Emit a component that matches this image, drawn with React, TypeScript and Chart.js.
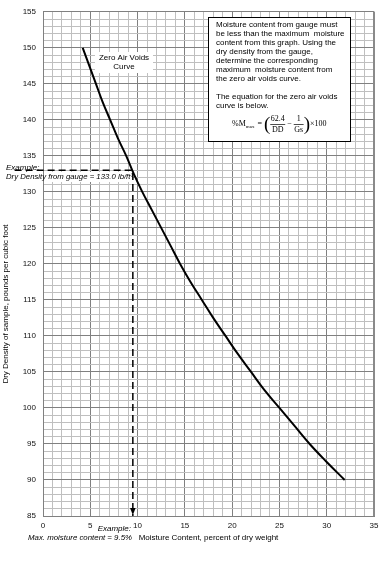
import React, { useEffect, useRef } from 'react';
import { Chart, registerables } from 'chart.js';

Chart.register(...registerables);

// Zero air voids curve
const densityPcf = [150, 147.5, 145, 142.5, 140, 137.5, 135, 132.5, 130, 127.5, 125, 122.5, 120, 117.5, 115, 112.5, 110, 107.5, 105, 102.5, 100, 97.5, 95, 92.5, 90];
const moisturePct = [4.2, 4.9, 5.6, 6.3, 7.1, 7.9, 8.8, 9.6, 10.5, 11.5, 12.5, 13.5, 14.5, 15.6, 16.8, 18.0, 19.3, 20.6, 22.0, 23.4, 25.0, 26.6, 28.2, 30.0, 31.9];

// Example reading (dashed guide)
const exampleGuideX = [-3, 9.5, 9.5];
const exampleGuideY = [133.0, 133.0, 85];

const xMin = 0, xMax = 35, yMin = 85, yMax = 155;
const majorStep = 5;

const noteLines = [
  'Moisture content from gauge must',
  'be less than the maximum  moisture',
  'content from this graph. Using the',
  'dry density from the gauge,',
  'determine the corresponding',
  'maximum  moisture content from',
  'the zero air voids curve.',
  '',
  'The equation for the zero air voids',
  'curve is below.',
];

const SANS = '"Liberation Sans", Arial, sans-serif';
const SERIF = '"Liberation Serif", "Times New Roman", serif';

const annotations = {
  id: 'annotations',
  afterDraw(chart: any) {
    const { ctx, chartArea, scales } = chart;
    const xs = scales.x, ys = scales.y;
    ctx.save();

    // right frame edge
    ctx.strokeStyle = '#8a8a8a';
    ctx.lineWidth = 2;
    ctx.beginPath();
    ctx.moveTo(chartArea.right, chartArea.top);
    ctx.lineTo(chartArea.right, chartArea.bottom);
    ctx.stroke();

    // arrow head
    const ax = xs.getPixelForValue(exampleGuideX[2]);
    const ay = ys.getPixelForValue(exampleGuideY[2]);
    ctx.fillStyle = '#000';
    ctx.beginPath();
    ctx.moveTo(ax, ay - 1);
    ctx.lineTo(ax - 2.8, ay - 8);
    ctx.lineTo(ax + 2.8, ay - 8);
    ctx.closePath();
    ctx.fill();

    // note box
    ctx.fillStyle = '#fff';
    ctx.fillRect(208, 17, 143, 125);
    ctx.strokeStyle = '#000';
    ctx.lineWidth = 1;
    ctx.strokeRect(208.5, 17.5, 142, 124);
    ctx.fillStyle = '#000';
    ctx.font = `8px ${SANS}`;
    ctx.textBaseline = 'middle';
    ctx.textAlign = 'left';
    noteLines.forEach((t, i) => {
      if (t) ctx.fillText(t, 216, 25 + i * 9);
    });

    // equation
    const ey = 124;
    let x = 232;
    ctx.font = `8px ${SERIF}`;
    ctx.fillText('%M', x, ey);
    x += ctx.measureText('%M').width;
    ctx.font = `5px ${SERIF}`;
    ctx.fillText('max', x, ey + 2.5);
    x += ctx.measureText('max').width + 3;
    ctx.font = `8px ${SERIF}`;
    ctx.fillText('=', x, ey);
    x += ctx.measureText('=').width + 2;
    ctx.font = `19px ${SERIF}`;
    ctx.fillText('(', x, ey + 1);
    x += ctx.measureText('(').width;
    const frac = (num: string, den: string) => {
      ctx.font = `8px ${SERIF}`;
      const w = Math.max(ctx.measureText(num).width, ctx.measureText(den).width) + 1;
      ctx.textAlign = 'center';
      ctx.fillText(num, x + w / 2, ey - 5);
      ctx.fillText(den, x + w / 2, ey + 5.5);
      ctx.textAlign = 'left';
      ctx.lineWidth = 0.7;
      ctx.beginPath();
      ctx.moveTo(x, ey + 0.5);
      ctx.lineTo(x + w, ey + 0.5);
      ctx.stroke();
      x += w;
    };
    frac('62.4', 'DD');
    x += 2;
    ctx.font = `8px ${SERIF}`;
    ctx.fillText('\u2212', x, ey);
    x += ctx.measureText('\u2212').width + 2;
    frac('1', 'Gs');
    ctx.font = `19px ${SERIF}`;
    ctx.fillText(')', x, ey + 1);
    x += ctx.measureText(')').width;
    ctx.font = `8px ${SERIF}`;
    ctx.fillText('\u00d7100', x, ey);

    // curve label
    ctx.fillStyle = '#fff';
    ctx.fillRect(95, 52, 58, 21);
    ctx.fillStyle = '#000';
    ctx.font = `8px ${SANS}`;
    ctx.textAlign = 'center';
    ctx.fillText('Zero Air Voids', 124, 58);
    ctx.fillText('Curve', 124, 67);

    // example annotations
    ctx.fillStyle = '#fff';
    ctx.fillRect(chartArea.left + 1, 172, 131 - chartArea.left, 10);
    ctx.fillStyle = '#000';
    ctx.font = `italic 8px ${SANS}`;
    ctx.textAlign = 'left';
    ctx.fillText('Example:', 6, 168);
    ctx.fillText('Dry Density from gauge = 133.0 lb/ft\u00b3', 6, 177, 127);
    ctx.textAlign = 'right';
    ctx.fillText('Example:', 131, 529);
    ctx.fillText('Max. moisture content = 9.5%', 132, 538, 104);

    // axis titles
    ctx.font = `8px ${SANS}`;
    ctx.textAlign = 'center';
    ctx.fillText('Moisture Content, percent of dry weight', 208.5, 538);
    ctx.translate(6, 304);
    ctx.rotate(-Math.PI / 2);
    ctx.fillText('Dry Density of sample, pounds per cubic foot', 0, 0);

    ctx.restore();
  },
};

export default function App() {
  const ref = useRef<HTMLCanvasElement | null>(null);

  useEffect(() => {
    if (!ref.current) return;
    Chart.defaults.font.family = SANS;
    const gridColor = (c: any) =>
      c.tick && Math.abs(c.tick.value % majorStep) < 1e-6 ? '#808080' : '#bfbfbf';
    const chart = new Chart(ref.current, {
      type: 'line',
      data: {
        datasets: [
          {
            label: 'Zero Air Voids Curve',
            data: moisturePct.map((m, i) => ({ x: m, y: densityPcf[i] })),
            borderColor: '#000',
            borderWidth: 2,
            pointRadius: 0,
            tension: 0.4,
            fill: false,
          },
          {
            label: 'Example',
            data: exampleGuideX.map((m, i) => ({ x: m, y: exampleGuideY[i] })),
            borderColor: '#000',
            borderWidth: 1.5,
            borderDash: [7, 4],
            pointRadius: 0,
            tension: 0,
            fill: false,
            clip: false as any,
          },
        ],
      },
      options: {
        animation: false,
        responsive: false,
        devicePixelRatio: 1,
        layout: { padding: { top: 6, right: 10, bottom: 0, left: 0 } },
        plugins: {
          legend: { display: false },
          tooltip: { enabled: false },
        },
        scales: {
          x: {
            type: 'linear',
            min: xMin,
            max: xMax,
            afterFit: (s: any) => { s.height = 46; },
            border: { color: '#808080', width: 1 },
            grid: { color: gridColor, lineWidth: 1, drawTicks: false },
            ticks: {
              stepSize: 1,
              autoSkip: false,
              maxRotation: 0,
              padding: 5,
              color: '#111',
              font: { size: 8, family: SANS },
              callback: (v: any) => (Number(v) % majorStep === 0 ? String(v) : ''),
            },
          },
          y: {
            type: 'linear',
            min: yMin,
            max: yMax,
            afterFit: (s: any) => { s.width = 43; },
            border: { color: '#808080', width: 1 },
            grid: { color: gridColor, lineWidth: 1, drawTicks: false },
            ticks: {
              stepSize: 1,
              autoSkip: false,
              padding: 7,
              color: '#111',
              font: { size: 8, family: SANS },
              callback: (v: any) => (Number(v) % majorStep === 0 ? String(v) : ''),
            },
          },
        },
      },
      plugins: [annotations],
    } as any);
    return () => chart.destroy();
  }, []);

  return (
    <div style={{ position: 'absolute', left: 0, top: 0, width: 384, height: 562, background: '#fff' }}>
      <canvas ref={ref} width={384} height={562} style={{ display: 'block', width: 384, height: 562 }} />
    </div>
  );
}
